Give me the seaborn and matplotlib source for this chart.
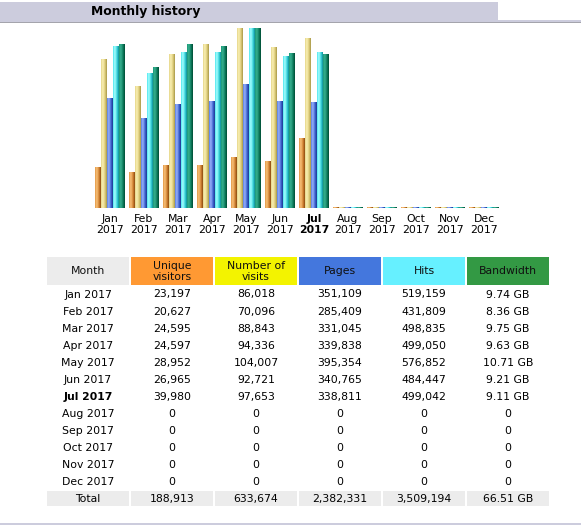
import numpy as np
import pandas as pd
import matplotlib
matplotlib.use("Agg")
import matplotlib.pyplot as plt
from matplotlib.patches import Rectangle
from matplotlib.colors import to_rgb
import seaborn as sns

# ---------------- data ----------------
months = ["Jan", "Feb", "Mar", "Apr", "May", "Jun", "Jul", "Aug", "Sep", "Oct", "Nov", "Dec"]
year = "2017"
visitors = [23197, 20627, 24595, 24597, 28952, 26965, 39980, 0, 0, 0, 0, 0]
visits = [86018, 70096, 88843, 94336, 104007, 92721, 97653, 0, 0, 0, 0, 0]
pages = [351109, 285409, 331045, 339838, 395354, 340765, 338811, 0, 0, 0, 0, 0]
hits = [519159, 431809, 498835, 499050, 576852, 484447, 499042, 0, 0, 0, 0, 0]
bandwidth_gb = [9.74, 8.36, 9.75, 9.63, 10.71, 9.21, 9.11, 0, 0, 0, 0, 0]
current_month = "Jul"
headers = ["Month", "Unique\nvisitors", "Number of\nvisits", "Pages", "Hits", "Bandwidth"]

W, H = 581, 531
fig = plt.figure(figsize=(W / 100, H / 100), dpi=100)
fig.patch.set_facecolor("white")
FONT = "DejaVu Sans"

# ---------------- bar chart ----------------
vis_max = max(visits)
hit_max = max(hits)
bw_max = max(bandwidth_gb)
floor = 1.0 / 180
series = [
    ("visitors", [v / vis_max for v in visitors]),
    ("visits", [v / vis_max for v in visits]),
    ("pages", [v / hit_max for v in pages]),
    ("hits", [v / hit_max for v in hits]),
    ("bandwidth", [v / bw_max for v in bandwidth_gb]),
]
rows = []
for name, vals in series:
    for m, v in zip(months, vals):
        rows.append({"month": m, "metric": name, "value": max(v, floor)})
df = pd.DataFrame(rows)

base_cols = {"visitors": "#E89040", "visits": "#E0D080", "pages": "#4870E0",
             "hits": "#40E0E8", "bandwidth": "#108060"}
grad = {
    "visitors": ("#E39A48", "#F8C27A", "#D08030", "#8A4A10"),
    "visits": ("#E6D68A", "#FAF0B4", "#DCCB78", "#A89848"),
    "pages": ("#5A80E8", "#9AB2F8", "#3C62D0", "#1C3890"),
    "hits": ("#50E6EE", "#A8FFFF", "#38D4DC", "#108C98"),
    "bandwidth": ("#1C9A78", "#38B090", "#0C7A5C", "#004C34"),
}

axb = fig.add_axes([93 / W, (H - 208) / H, 408 / W, 180 / H])
sns.barplot(data=df, x="month", y="value", hue="metric",
            hue_order=[s[0] for s in series], order=months,
            palette=base_cols, width=30 / 34, dodge=True,
            legend=False, ax=axb, saturation=1, errorbar=None)
axb.set_xlim(-0.5, 11.5)
axb.set_ylim(0, 1)

# cylinder-like shading for each bar
col_to_metric = {tuple(np.round(to_rgb(c), 3)): k for k, c in base_cols.items()}
tt = np.linspace(0, 1, 24)
for p in list(axb.patches):
    fc = tuple(np.round(p.get_facecolor()[:3], 3))
    metric = col_to_metric.get(fc)
    if metric is None:
        continue
    c0, c1, c2, c3 = [np.array(to_rgb(c)) for c in grad[metric]]
    stops = [0.0, 0.3, 0.7, 1.0]
    img = np.zeros((1, len(tt), 3))
    for ch in range(3):
        img[0, :, ch] = np.interp(tt, stops, [c0[ch], c1[ch], c2[ch], c3[ch]])
    x0, y0, w, h = p.get_x(), p.get_y(), p.get_width(), p.get_height()
    axb.imshow(img, extent=[x0, x0 + w, y0, y0 + h], aspect="auto",
               interpolation="bilinear", zorder=3)
    p.set_visible(False)
axb.set_xlim(-0.5, 11.5)
axb.set_ylim(0, 1)

for s in axb.spines.values():
    s.set_visible(False)
axb.set_yticks([])
axb.set_ylabel("")
axb.set_xlabel("")
axb.set_xticks(range(12))
axb.set_xticklabels([f"{m}\n{year}" for m in months], fontsize=7.8,
                    family=FONT, linespacing=1.15)
axb.tick_params(axis="x", length=0, pad=4.5)
for lab, m in zip(axb.get_xticklabels(), months):
    if m == current_month:
        lab.set_fontweight("bold")
axb.patch.set_alpha(0)

# ---------------- overlay (title + table) ----------------
ov = fig.add_axes([0, 0, 1, 1], zorder=-1)
ov.set_xlim(0, W)
ov.set_ylim(H, 0)
ov.axis("off")

ov.add_patch(Rectangle((0, 2), 498, 19, color="#CCCCDD", lw=0))
ov.add_patch(Rectangle((0, 20), W, 2, color="#CCCCDD", lw=0))
ov.add_patch(Rectangle((0, 22), W, 1.2, color="#A4A4AC", lw=0))
ov.text(91, 11.5, "Monthly history", fontsize=8.9, fontweight="bold",
        family=FONT, ha="left", va="center", color="#000000")

col_left = [47, 131, 215, 299, 383, 467]
col_w = 82
hdr_colors = ["#ECECEC", "#FF9933", "#F3F300", "#4477DD", "#66F0FF", "#339944"]
for xl, c, t in zip(col_left, hdr_colors, headers):
    ov.add_patch(Rectangle((xl, 257), col_w, 28, color=c, lw=0))
    ov.text(xl + col_w / 2, 271.5, t, fontsize=7.8, family=FONT, ha="center",
            va="center", color="#101010", linespacing=1.15)

def fmt(n):
    return f"{n:,}"

def fmt_bw(v):
    return f"{v:.2f} GB" if v > 0 else "0"

row_y0 = 294.5
step = 17.09
for i, m in enumerate(months):
    y = row_y0 + i * step
    cells = [f"{m} {year}", fmt(visitors[i]), fmt(visits[i]), fmt(pages[i]),
             fmt(hits[i]), fmt_bw(bandwidth_gb[i])]
    for j, (xl, t) in enumerate(zip(col_left, cells)):
        ov.text(xl + col_w / 2, y, t, fontsize=7.8, family=FONT, ha="center",
                va="center", color="#000000",
                fontweight="bold" if (j == 0 and m == current_month) else "normal")

# total row
ty = 499
totals = ["Total", fmt(sum(visitors)), fmt(sum(visits)), fmt(sum(pages)),
          fmt(sum(hits)), f"{sum(bandwidth_gb):.2f} GB"]
for xl, t in zip(col_left, totals):
    ov.add_patch(Rectangle((xl, 491), col_w, 15, color="#ECECEC", lw=0))
    ov.text(xl + col_w / 2, ty, t, fontsize=7.8, family=FONT, ha="center",
            va="center", color="#000000")

ov.add_patch(Rectangle((0, 523), W, 2, color="#CCCCDD", lw=0))

fig.savefig("out.png", dpi=100, facecolor="white")
